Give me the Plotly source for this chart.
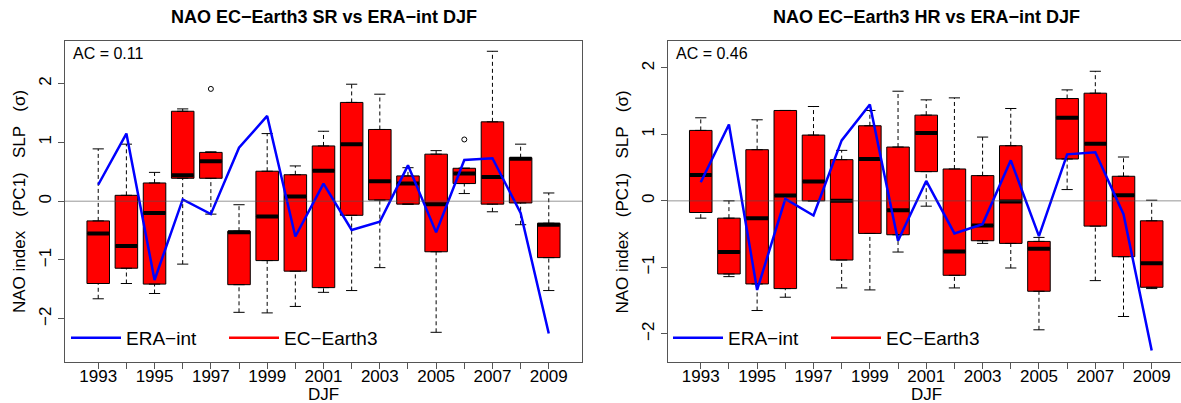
import plotly.graph_objects as go

W, H = 1181, 403

years = list(range(1993, 2010))
tick_labels = [str(y) if y % 2 == 1 else "" for y in years]

era_int = [0.28, 1.15, -1.34, 0.03, -0.22, 0.91, 1.45, -0.60, 0.30,
           -0.49, -0.35, 0.61, -0.53, 0.70, 0.73, -0.20, -2.25]

# EC-Earth3 SR (left panel)
sr_lo = [-1.66, -1.40, -1.57, -1.07, -0.22, -1.89, -1.90, -1.79, -1.55,
         -1.52, -1.13, -0.05, -2.23, 0.13, -0.18, -0.40, -1.52]
sr_q1 = [-1.40, -1.14, -1.41, 0.39, 0.39, -1.42, -1.01, -1.19, -1.47,
         -0.24, 0.02, -0.05, -0.86, 0.30, -0.05, -0.03, -0.96]
sr_med = [-0.55, -0.76, -0.20, 0.44, 0.68, -0.53, -0.26, 0.08, 0.52,
          0.97, 0.34, 0.30, -0.05, 0.47, 0.41, 0.72, -0.40]
sr_q3 = [-0.335, 0.10, 0.31, 1.53, 0.83, -0.51, 0.51, 0.45, 0.94,
         1.68, 1.22, 0.43, 0.80, 0.56, 1.35, 0.74, -0.375]
sr_hi = [0.89, 0.97, 0.49, 1.57, 0.84, -0.06, 1.15, 0.60, 1.19,
         1.99, 1.82, 0.57, 0.86, 0.56, 2.55, 0.97, 0.14]
sr_out_x = [1997, 2006]
sr_out_y = [1.91, 1.05]

# EC-Earth3 HR (right panel)
hr_lo = [-0.26, -1.14, -1.65, -1.45, 0.0, -1.31, -1.34, -0.77, -0.08,
         -1.31, -0.64, -1.01, -1.94, 0.17, -1.20, -1.74, -1.32]
hr_q1 = [-0.175, -1.10, -1.25, -1.32, 0.0, -0.89, -0.49, -0.51, 0.44,
         -1.12, -0.60, -0.64, -1.36, 0.63, -0.38, -0.84, -1.30]
hr_med = [0.39, -0.77, -0.26, 0.08, 0.29, 0.0, 0.63, -0.14, 1.02,
          -0.76, -0.37, -0.01, -0.72, 1.25, 0.86, 0.085, -0.94]
hr_q3 = [1.06, -0.26, 0.77, 1.36, 0.99, 0.62, 1.13, 0.81, 1.29,
         0.48, 0.38, 0.83, -0.61, 1.54, 1.62, 0.37, -0.30]
hr_hi = [1.25, 0.0, 1.22, 1.36, 1.42, 0.76, 1.36, 1.65, 1.52,
         1.55, 0.96, 1.39, -0.55, 1.67, 1.95, 0.66, 0.01]

titles = ["NAO EC\u2212Earth3 SR vs ERA\u2212int DJF",
          "NAO EC\u2212Earth3 HR vs ERA\u2212int DJF"]
ac_texts = ["AC = 0.11", "AC = 0.46"]
sp = "\u00a0\u00a0 "
ytitle = "NAO index" + sp + "(PC1)" + sp + "SLP" + sp + "(\u03c3)"

FONT = "Liberation Sans, Arial, Helvetica, sans-serif"
AX = "#555555"

fig = go.Figure()


def add_panel(idx, lo, q1, med, q3, hi, out_x, out_y):
    xa = "x" if idx == 1 else "x2"
    ya = "y" if idx == 1 else "y2"
    leg = "legend" if idx == 1 else "legend2"
    fig.add_trace(go.Box(
        x=years, q1=q1, median=med, q3=q3, lowerfence=q1, upperfence=q3,
        width=0.8, fillcolor="#FF0000", line=dict(color="black", width=1),
        boxpoints=False, showlegend=False, xaxis=xa, yaxis=ya, hoverinfo="skip"))
    # dashed whiskers
    wx, wy = [], []
    for yr, a, b, c, d in zip(years, lo, q1, q3, hi):
        wx += [yr, yr, None, yr, yr, None]
        wy += [a, b, None, c, d, None]
    fig.add_trace(go.Scatter(
        x=wx, y=wy, mode="lines", line=dict(color="black", width=1, dash="4px,3px"),
        showlegend=False, xaxis=xa, yaxis=ya, hoverinfo="skip"))
    # staples
    fig.add_trace(go.Scatter(
        x=years + years, y=lo + hi, mode="markers",
        marker=dict(symbol="line-ew", size=8, line=dict(color="black", width=1)),
        showlegend=False, xaxis=xa, yaxis=ya, hoverinfo="skip"))
    # thick medians
    fig.add_trace(go.Scatter(
        x=years, y=med, mode="markers",
        marker=dict(symbol="line-ew", size=15.7, line=dict(color="black", width=4)),
        showlegend=False, xaxis=xa, yaxis=ya, hoverinfo="skip"))
    if out_x:
        fig.add_trace(go.Scatter(
            x=out_x, y=out_y, mode="markers",
            marker=dict(symbol="circle-open", size=5, color="black", line=dict(width=1)),
            showlegend=False, xaxis=xa, yaxis=ya, hoverinfo="skip"))
    fig.add_trace(go.Scatter(
        x=years, y=era_int, mode="lines", name="ERA\u2212int",
        line=dict(color="#0000FF", width=2.5), xaxis=xa, yaxis=ya, legend=leg))
    fig.add_trace(go.Scatter(
        x=[None], y=[None], mode="lines", name="EC\u2212Earth3",
        line=dict(color="#FF0000", width=2.5), xaxis=xa, yaxis=ya, legend=leg))


add_panel(1, sr_lo, sr_q1, sr_med, sr_q3, sr_hi, sr_out_x, sr_out_y)
add_panel(2, hr_lo, hr_q1, hr_med, hr_q3, hr_hi, [], [])

xl0, xl1 = 65 / W, 582 / W
xr0, xr1 = 667.5 / W, 1.0
yd0, yd1 = 1 - 361.7 / H, 1 - 40.7 / H

common_x = dict(tickmode="array", tickvals=years, ticktext=tick_labels,
                ticks="outside", ticklen=6, tickcolor=AX, showline=True,
                linecolor=AX, linewidth=1, showgrid=False, zeroline=False,
                ticklabelstandoff=-7,
                tickfont=dict(size=17, color="black", family=FONT), mirror=True)
common_y = dict(tickmode="array", tickvals=[-2, -1, 0, 1, 2],
                ticks="outside", ticklen=6, tickcolor=AX, showline=True,
                linecolor=AX, linewidth=1, showgrid=False, zeroline=False,
                tickangle=-90,
                tickfont=dict(size=17, color="black", family=FONT))

leg_common = dict(y=1 - 338 / H, xanchor="left", yanchor="middle",
                  orientation="h", bgcolor="rgba(0,0,0,0)", font=dict(size=19),
                  entrywidth=93, itemwidth=50)

fig.update_layout(
    width=W, height=H, margin=dict(l=0, r=0, t=0, b=0),
    paper_bgcolor="white", plot_bgcolor="white",
    font=dict(family=FONT, color="black"),
    xaxis=dict(domain=[xl0, xl1], range=[1991.82, 2010.18], anchor="y", **common_x),
    yaxis=dict(domain=[yd0, yd1], range=[-2.73, 2.73], anchor="x", mirror=True, **common_y),
    xaxis2=dict(domain=[xr0, xr1], range=[1991.82, 2010.04], anchor="y2", **common_x),
    yaxis2=dict(domain=[yd0, yd1], range=[-2.42, 2.41], anchor="x2", mirror=False, **common_y),
    legend=dict(x=66 / W, **leg_common),
    legend2=dict(x=668 / W, **leg_common),
    showlegend=True,
)

for i, (x0, x1, xref, yref) in enumerate([(xl0, xl1, "x", "y"), (xr0, 1185 / W, "x2", "y2")]):
    cx = (x0 + x1) / 2
    fig.add_annotation(text="<b>" + titles[i] + "</b>", x=cx, y=1 - 17 / H,
                       xref="paper", yref="paper", showarrow=False,
                       font=dict(size=18, family=FONT), xanchor="center", yanchor="middle")
    fig.add_annotation(text="DJF", x=cx, y=1 - 394 / H, xref="paper", yref="paper",
                       showarrow=False, font=dict(size=17, family=FONT),
                       xanchor="center", yanchor="middle")
    fig.add_annotation(text=ac_texts[i], x=x0 + 6 / W, y=1 - 53 / H, xref="paper",
                       yref="paper", showarrow=False, font=dict(size=16, family=FONT),
                       xanchor="left", yanchor="middle")
    fig.add_annotation(text=ytitle, x=x0 - 45 / W, y=1 - 202 / H, xref="paper",
                       yref="paper", showarrow=False, textangle=-90,
                       font=dict(size=17, family=FONT), xanchor="center", yanchor="middle")
    fig.add_shape(type="line", xref=f"{xref} domain", yref=yref, x0=0, x1=1, y0=0, y1=0,
                  line=dict(color="rgba(80,80,80,0.6)", width=1), layer="above")

fig.write_html("out.html")
